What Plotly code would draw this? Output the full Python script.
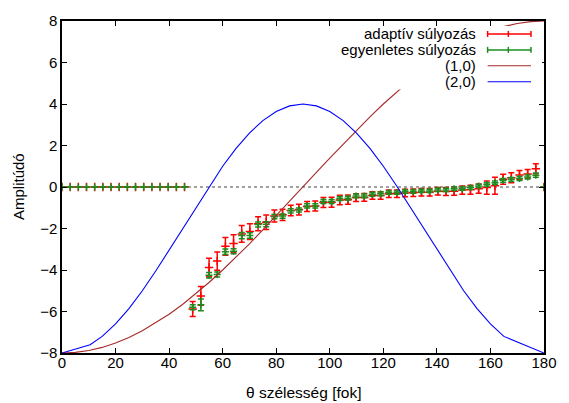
import plotly.graph_objects as go

# Latitude grid of the measured points [deg]
theta = [0, 3.05, 6.10, 9.15, 12.20, 15.25, 18.31, 21.36, 24.41, 27.46,
         30.51, 33.56, 36.61, 39.66, 42.71, 45.76, 48.81, 51.86, 54.92, 57.97,
         61.02, 64.07, 67.12, 70.17, 73.22, 76.27, 79.32, 82.37, 85.42, 88.47,
         91.53, 94.58, 97.63, 100.68, 103.73, 106.78, 109.83, 112.88, 115.93, 118.98,
         122.03, 125.08, 128.14, 131.19, 134.24, 137.29, 140.34, 143.39, 146.44, 149.49,
         152.54, 155.59, 158.64, 161.69, 164.75, 167.80, 170.85, 173.90, 176.95, 180]

# adaptív súlyozás: amplitude and its error
adapt_y = [0] * 16 + [
    -5.88, -5.25, -3.88, -3.57, -2.86, -2.72, -2.26, -2.15, -1.77, -1.70,
    -1.40, -1.34, -1.13, -1.09, -0.94, -0.92, -0.75, -0.73, -0.63, -0.61,
    -0.51, -0.50, -0.41, -0.41, -0.33, -0.33, -0.29, -0.28, -0.25, -0.25,
    -0.21, -0.22, -0.20, -0.15, -0.13, -0.08, -0.03, 0.06, 0.37, 0.45,
    0.58, 0.63, 0.88, 0]
adapt_err = [0] * 16 + [
    0.36, 0.45, 0.45, 0.44, 0.43, 0.42, 0.40, 0.38, 0.34, 0.35,
    0.29, 0.27, 0.25, 0.26, 0.24, 0.24, 0.24, 0.24, 0.23, 0.22,
    0.19, 0.19, 0.18, 0.18, 0.18, 0.18, 0.18, 0.18, 0.18, 0.18,
    0.18, 0.19, 0.20, 0.20, 0.22, 0.22, 0.32, 0.41, 0.24, 0.24,
    0.22, 0.21, 0.24, 0]

# egyenletes súlyozás: amplitude and its error
unif_y = [0] * 16 + [
    -5.79, -5.68, -4.25, -4.22, -3.12, -3.10, -2.34, -2.34, -1.81, -1.80,
    -1.43, -1.40, -1.15, -1.11, -0.91, -0.91, -0.70, -0.70, -0.56, -0.54,
    -0.43, -0.43, -0.35, -0.33, -0.27, -0.27, -0.22, -0.22, -0.19, -0.19,
    -0.14, -0.14, -0.08, -0.08, -0.03, 0.05, 0.13, 0.21, 0.32, 0.37,
    0.41, 0.48, 0.57, 0]
unif_err = [0] * 16 + [
    0.12, 0.28, 0.13, 0.12, 0.13, 0.12, 0.15, 0.13, 0.12, 0.12,
    0.10, 0.10, 0.10, 0.10, 0.10, 0.10, 0.10, 0.10, 0.09, 0.09,
    0.09, 0.09, 0.09, 0.09, 0.08, 0.08, 0.08, 0.08, 0.08, 0.08,
    0.08, 0.08, 0.08, 0.08, 0.08, 0.08, 0.08, 0.08, 0.09, 0.09,
    0.10, 0.10, 0.10, 0]

# (1,0) mode curve
mode10_x = [0, 5, 10, 15, 20, 25, 30, 35, 40, 45, 50, 55, 60, 65, 70, 75, 80, 85, 90,
            95, 100, 105, 110, 115, 120, 125, 130, 135, 140, 145, 150, 155, 160, 165,
            170, 175, 180]
mode10_y = [-8.00, -7.97, -7.88, -7.73, -7.52, -7.25, -6.93, -6.55, -6.13, -5.66,
            -5.14, -4.59, -4.00, -3.38, -2.74, -2.07, -1.39, -0.70, 0.00,
            0.70, 1.39, 2.07, 2.74, 3.38, 4.00, 4.59, 5.14, 5.66, 6.13,
            6.55, 6.93, 7.25, 7.52, 7.73, 7.88, 7.97, 8.00]

# (2,0) mode curve
mode20_x = [0, 10.5, 15, 20, 25, 30, 35, 40, 45, 50, 55, 60, 65, 70, 75, 80, 85, 90,
            95, 100, 105, 110, 115, 120, 125, 130, 135, 140, 145, 150, 155, 160, 165, 180]
mode20_y = [-8.00, -7.60, -7.20, -6.60, -5.86, -5.00, -4.05, -3.04, -2.00, -0.96,
            0.05, 1.00, 1.86, 2.60, 3.20, 3.64, 3.91, 4.00,
            3.91, 3.64, 3.20, 2.60, 1.86, 1.00, 0.05, -0.96, -2.00, -3.04, -4.05,
            -5.00, -5.86, -6.60, -7.20, -8.00]

x_ticks = [0, 20, 40, 60, 80, 100, 120, 140, 160, 180]
y_ticks = [-8, -6, -4, -2, 0, 2, 4, 6, 8]

series_names = ["adaptív súlyozás", "egyenletes súlyozás", "(1,0)", "(2,0)"]

RED = "#ff0000"
GREEN = "#1e8c1e"
BROWN = "#a52a2a"
BLUE = "#0000ff"
FONT = "Liberation Sans, Arial, sans-serif"

fig = go.Figure()

fig.add_trace(go.Scatter(
    x=theta, y=adapt_y, mode="markers", name=series_names[0], showlegend=False,
    marker=dict(symbol="cross-thin", size=6, line=dict(color=RED, width=1.5)),
    error_y=dict(type="data", array=adapt_err, visible=True, color=RED,
                 thickness=1.5, width=3)))

fig.add_trace(go.Scatter(
    x=theta, y=unif_y, mode="markers", name=series_names[1], showlegend=False,
    marker=dict(symbol="cross-thin", size=5, line=dict(color=GREEN, width=1.5)),
    error_y=dict(type="data", array=unif_err, visible=True, color=GREEN,
                 thickness=1.5, width=3)))

fig.add_trace(go.Scatter(
    x=mode10_x, y=mode10_y, mode="lines", name=series_names[2], showlegend=False,
    line=dict(color=BROWN, width=1.1)))

fig.add_trace(go.Scatter(
    x=mode20_x, y=mode20_y, mode="lines", name=series_names[3], showlegend=False,
    line=dict(color=BLUE, width=1.1)))

shapes = []
# dotted zero axis
shapes.append(dict(type="line", xref="paper", yref="y", x0=0, x1=1, y0=0, y1=0,
                   layer="below", line=dict(color="#444444", width=1, dash="dot")))

# opaque key box
kx0, kx1, ky0, ky1 = 0.54, 0.996, 0.794, 0.985
shapes.append(dict(type="rect", xref="paper", yref="paper", x0=kx0, x1=kx1,
                   y0=ky0, y1=ky1, layer="above", fillcolor="white",
                   line=dict(width=0)))

row_y = [0.961, 0.913, 0.865, 0.817]
sx0, sx1, smid = 0.883, 0.973, 0.926
cap = 0.009
key_colors = [RED, GREEN, BROWN, BLUE]
annotations = []
for i, (name, col) in enumerate(zip(series_names, key_colors)):
    yy = row_y[i]
    shapes.append(dict(type="line", xref="paper", yref="paper", x0=sx0, x1=sx1,
                       y0=yy, y1=yy, layer="above",
                       line=dict(color=col, width=1.5 if i < 2 else 1.1)))
    if i < 2:
        for xx in (sx0, smid, sx1):
            shapes.append(dict(type="line", xref="paper", yref="paper", x0=xx, x1=xx,
                               y0=yy - cap, y1=yy + cap, layer="above",
                               line=dict(color=col, width=1.5)))
    annotations.append(dict(xref="paper", yref="paper", x=0.860, y=yy, text=name,
                            showarrow=False, xanchor="right", yanchor="middle",
                            borderpad=0,
                            font=dict(family=FONT, size=15, color="black")))

# axis titles
annotations.append(dict(xref="paper", yref="paper", x=0.5, y=0, yshift=-39,
                        text="θ szélesség [fok]", showarrow=False,
                        xanchor="center", yanchor="middle",
                        font=dict(family=FONT, size=15.5, color="black")))
annotations.append(dict(xref="paper", yref="paper", x=0, y=0.5, xshift=-44,
                        text="Amplitúdó", showarrow=False, textangle=-90,
                        xanchor="center", yanchor="middle",
                        font=dict(family=FONT, size=15, color="black")))

axis_common = dict(showgrid=False, zeroline=False, showline=True, linecolor="black",
                   linewidth=1.5, mirror="ticks", ticks="inside", ticklen=5,
                   tickwidth=1, tickcolor="black",
                   tickfont=dict(family=FONT, size=15, color="black"))

fig.update_layout(
    width=569, height=403,
    margin=dict(l=62, r=21, t=18, b=50),
    paper_bgcolor="white", plot_bgcolor="white",
    showlegend=False,
    xaxis=dict(range=[0, 180], tickvals=x_ticks, ticklabelstandoff=-5, **axis_common),
    yaxis=dict(range=[-8, 8], tickvals=y_ticks, **axis_common),
    shapes=shapes, annotations=annotations,
)

fig.write_html("out.html")
